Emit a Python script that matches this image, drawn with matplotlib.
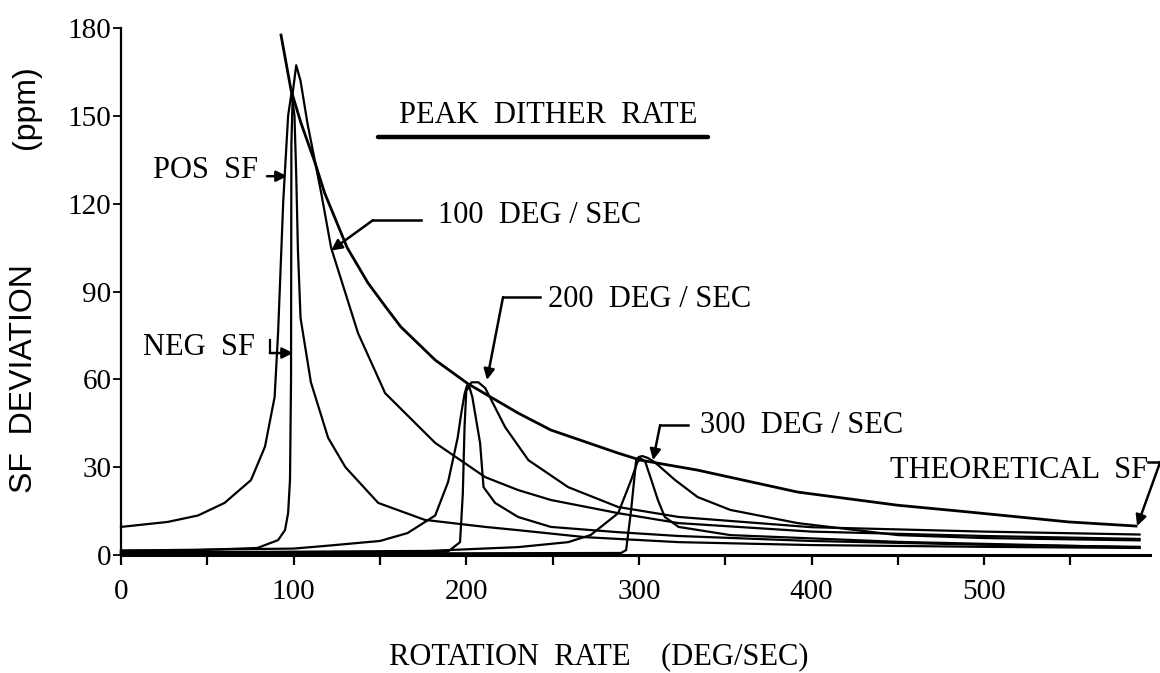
import matplotlib
matplotlib.use("Agg")
import matplotlib.pyplot as plt
from matplotlib.ticker import MultipleLocator

plt.rcParams['font.family'] = ['Liberation Serif', 'DejaVu Serif']

# ---- data ----
theo_x = [92.7, 98.5, 104.3, 112.4, 118, 131, 143, 153, 162, 182, 201, 230, 249, 288, 301, 334, 392, 450, 491, 549, 588]
theo_y = [177.6, 158.8, 147.5, 134, 123.6, 105, 93, 85, 78, 66.6, 58.5, 48.5, 42.7, 34.8, 32.4, 29, 21.5, 17, 14.7, 11.3, 9.9]

pos100_x = [0, 27, 44.6, 60, 75.3, 83.4, 89, 91, 94, 96.8, 98.8, 100.5, 101.5, 102.5, 104, 110, 120, 130, 149, 176, 211, 230, 269, 323, 400, 500, 590]
pos100_y = [9.6, 11.3, 13.5, 17.8, 25.6, 37, 54, 76, 121, 150, 158, 150, 130, 104, 81, 59, 40, 30, 17.8, 12, 9.6, 8.5, 6.1, 4.4, 3.4, 2.8, 2.4]

neg100_x = [0, 40, 79, 91, 95, 96.8, 97.9, 98.5, 98.7, 99.5, 101.5, 104, 108, 116, 121.7, 137.3, 153, 182, 211, 230, 249, 288, 323, 400, 500, 590]
neg100_y = [1.5, 1.6, 2.4, 5.1, 8.5, 14.3, 25.6, 60, 140, 158, 167.3, 162, 147.5, 123.6, 105, 75.8, 55.3, 38.3, 26.6, 22.2, 18.8, 14.3, 10.9, 8.0, 6.5, 5.5]

pos200_x = [0, 100, 120, 150, 166, 182, 189.5, 195, 197, 199, 200.5, 202, 203.5, 208, 210, 216.7, 230, 249, 288, 323, 400, 500, 590]
pos200_y = [1.5, 2.2, 3.2, 4.8, 7.5, 13.5, 25, 40, 48, 55, 58, 57, 54, 38.3, 23.2, 17.8, 13, 9.6, 7.8, 6.5, 4.8, 3.5, 2.8]

neg200_x = [0, 100, 178, 189.5, 196.4, 198, 199, 200, 203, 207, 211, 222.5, 236, 259, 288, 323, 400, 500, 590]
neg200_y = [1.0, 1.0, 0.9, 1.2, 4.4, 21, 43.7, 56, 59, 59, 57, 43.7, 32.4, 23.2, 16.4, 13, 9.5, 8.0, 7.0]

pos300_x = [0, 178, 230, 259, 272, 288, 295.5, 299, 301, 303.6, 307, 311, 315, 323, 353, 450, 590]
pos300_y = [0.8, 1.4, 2.7, 4.4, 6.8, 14.3, 25.6, 31.5, 33, 32, 26, 18.8, 13, 9.6, 6.8, 4.5, 2.6]

neg300_x = [0, 200, 289.7, 292.6, 295.5, 298.4, 300, 302, 305, 309, 321, 334, 353, 392, 450, 500, 590]
neg300_y = [0.6, 0.6, 0.7, 1.7, 15.4, 32.4, 33.5, 33.8, 33.2, 31.8, 25.6, 19.8, 15.4, 10.9, 6.8, 5.8, 5.0]

x_major = [0, 100, 200, 300, 400, 500]
y_ticks = [0, 30, 60, 90, 120, 150, 180]

# ---- figure ----
fig = plt.figure(figsize=(11.6, 6.73), dpi=100)
ax = fig.add_axes([0.1043, 0.1753, 0.887, 0.783])
ax.set_xlim(0, 596)
ax.set_ylim(0, 180)

lw = 1.6
for xs, ys in [(pos100_x, pos100_y), (neg100_x, neg100_y), (pos200_x, pos200_y),
               (neg200_x, neg200_y), (pos300_x, pos300_y), (neg300_x, neg300_y)]:
    ax.plot(xs, ys, color='black', lw=lw, clip_on=False, solid_joinstyle='round')
ax.plot(theo_x, theo_y, color='black', lw=2.0, clip_on=False)

for s in ['top', 'right']:
    ax.spines[s].set_visible(False)
ax.spines['left'].set_linewidth(1.6)
ax.spines['bottom'].set_linewidth(2.2)

ax.set_xticks(x_major)
ax.xaxis.set_minor_locator(MultipleLocator(50))
ax.set_yticks(y_ticks)
ax.tick_params(axis='x', which='both', direction='out', length=7, width=1.6, pad=10, labelsize=21)
ax.tick_params(axis='y', direction='out', length=6, width=1.3, pad=1, labelsize=21)

# ---- annotations ----
fs = 22
arrow = dict(arrowstyle='-|>', color='black', lw=1.8, mutation_scale=16, shrinkA=0, shrinkB=0)

ax.text(247.4, 147.5, "PEAK  DITHER  RATE", ha='center', va='baseline', fontsize=fs)
ax.plot([149, 340], [142.8, 142.8], color='black', lw=3.2, solid_capstyle='round')

ax.text(183.7, 113.4, "100  DEG / SEC", ha='left', va='baseline', fontsize=fs)
ax.plot([174, 146], [114.4, 114.4], color='black', lw=1.8)
ax.annotate("", xy=(121.7, 104), xytext=(146, 114.4), arrowprops=arrow)

ax.text(247.4, 84.7, "200  DEG / SEC", ha='left', va='baseline', fontsize=fs)
ax.plot([242.8, 221.3], [88.1, 88.1], color='black', lw=1.8)
ax.annotate("", xy=(212, 59.8), xytext=(221.3, 88.1), arrowprops=arrow)

ax.text(335.5, 41.7, "300  DEG / SEC", ha='left', va='baseline', fontsize=fs)
ax.plot([328.5, 312.3], [44.4, 44.4], color='black', lw=1.8)
ax.annotate("", xy=(308.2, 32.4), xytext=(312.3, 44.4), arrowprops=arrow)

ax.text(445.5, 26.3, "THEORETICAL  SF", ha='left', va='baseline', fontsize=fs)
ax.plot([595, 602], [31.8, 31.8], color='black', lw=1.8, clip_on=False)
ax.annotate("", xy=(588.6, 9.9), xytext=(602, 31.8), arrowprops=arrow, annotation_clip=False)

ax.text(18.5, 128.8, "POS  SF", ha='left', va='baseline', fontsize=fs)
ax.annotate("", xy=(96.2, 129.4), xytext=(84.6, 129.4), arrowprops=arrow)

ax.text(12.7, 68.3, "NEG  SF", ha='left', va='baseline', fontsize=fs)
ax.plot([86.3, 86.3], [69, 73.4], color='black', lw=1.6)
ax.annotate("", xy=(99.7, 69), xytext=(86.3, 69), arrowprops=arrow)

# axis labels
fig.text(599 / 1160, 1 - 664 / 673, "ROTATION  RATE    (DEG/SEC)", ha='center', va='baseline', fontsize=fs)
fig.text(24 / 1160, 1 - 379 / 673, "SF  DEVIATION", rotation=90, ha='center', va='center',
         fontsize=23, family=['Liberation Sans', 'DejaVu Sans'])
fig.text(26 / 1160, 1 - 107.5 / 673, "(ppm)", rotation=90, ha='center', va='center',
         fontsize=23, family=['Liberation Sans', 'DejaVu Sans'])

fig.savefig("out.png", dpi=100)
